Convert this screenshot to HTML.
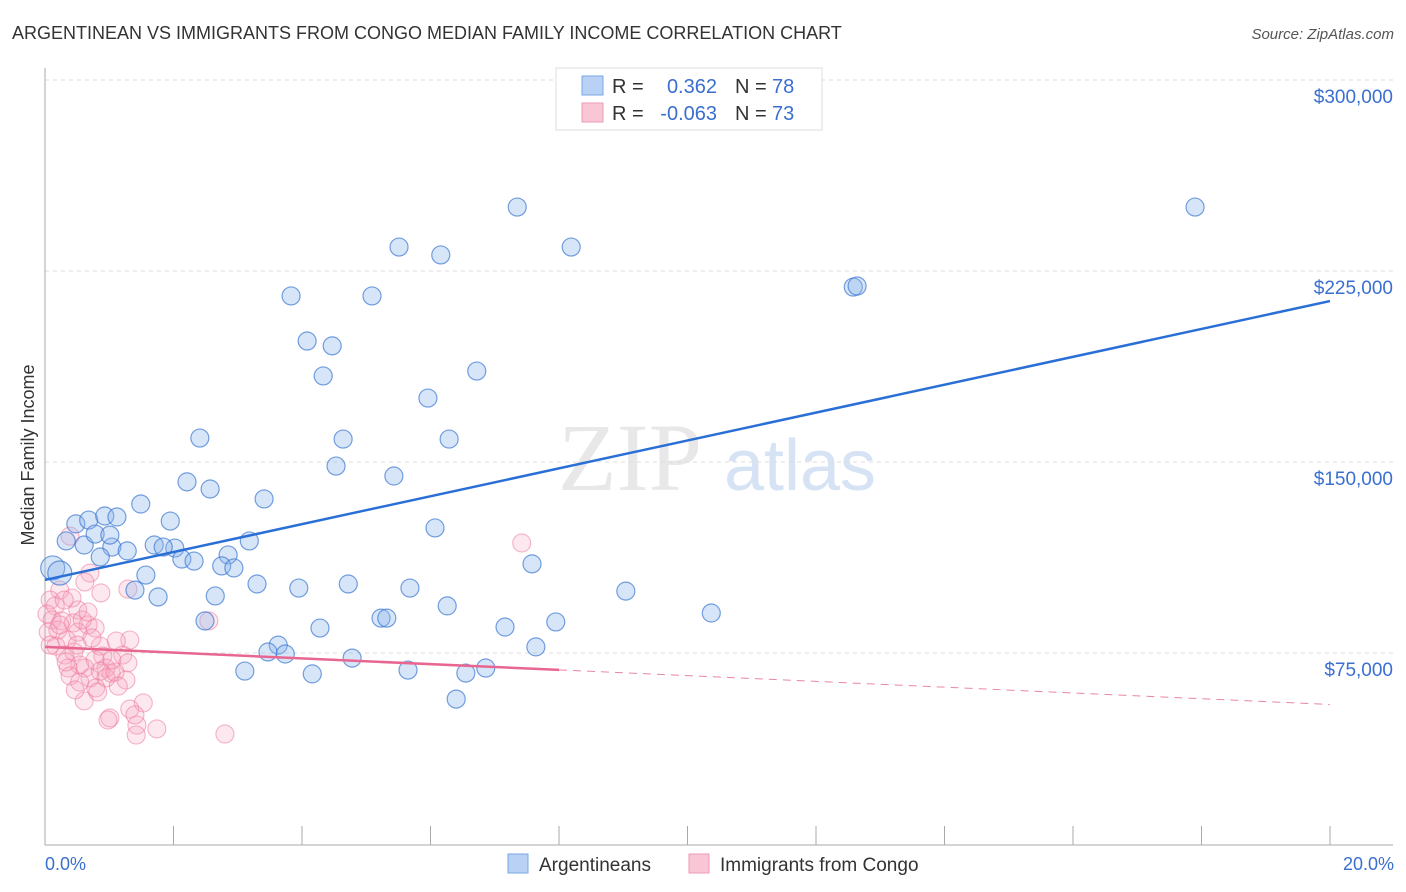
<!DOCTYPE html>
<html><head><meta charset="utf-8">
<style>
body{margin:0;background:#fff;font-family:"Liberation Sans",sans-serif;}
svg{display:block}
</style></head>
<body>
<svg id="chart" width="1406" height="892">
<text x="12" y="39" font-size="18" fill="#333">ARGENTINEAN VS IMMIGRANTS FROM CONGO MEDIAN FAMILY INCOME CORRELATION CHART</text>
<text x="1394" y="39" font-size="15" fill="#555" font-style="italic" text-anchor="end">Source: ZipAtlas.com</text>
<text x="630" y="490" font-size="96" fill="#e8e8e8" font-family="Liberation Serif" text-anchor="middle">ZIP</text>
<text x="800" y="490" font-size="72" fill="#d6e3f5" text-anchor="middle">atlas</text>
<g id="grid"></g>
<g id="axes"></g>
<g id="pinkpts"></g>
<g id="bluepts"></g>
<g id="lines"></g>
<text transform="translate(34,455) rotate(-90)" font-size="18" fill="#333" text-anchor="middle">Median Family Income</text>
<text x="45" y="870" font-size="18" fill="#3a6fd0">0.0%</text>
<text x="1394" y="870" font-size="18" fill="#3a6fd0" text-anchor="end">20.0%</text>
<g>
<rect x="556" y="68" width="266" height="62" fill="#fff" stroke="#ddd"/>
<rect x="582" y="76" width="21" height="19" fill="#b8d1f5" stroke="#7aa6e6"/>
<rect x="582" y="103" width="21" height="19" fill="#f9c6d6" stroke="#ee9ab4"/>
<text x="612" y="93" font-size="20" fill="#333">R = </text><text x="717" y="93" font-size="20" fill="#3a6fd0" text-anchor="end">0.362</text>
<text x="735" y="93" font-size="20" fill="#333">N = </text><text x="772" y="93" font-size="20" fill="#3a6fd0">78</text>
<text x="612" y="120" font-size="20" fill="#333">R = </text><text x="717" y="120" font-size="20" fill="#3a6fd0" text-anchor="end">-0.063</text>
<text x="735" y="120" font-size="20" fill="#333">N = </text><text x="772" y="120" font-size="20" fill="#3a6fd0">73</text>
</g>
<g>
<rect x="508" y="854" width="20" height="19" fill="#b8d1f5" stroke="#7aa6e6"/>
<text x="539" y="871" font-size="19" fill="#333">Argentineans</text>
<rect x="689" y="854" width="20" height="19" fill="#f9c6d6" stroke="#ee9ab4"/>
<text x="720" y="871" font-size="19" fill="#333">Immigrants from Congo</text>
</g>
</svg>
<script>
const yTicks=[75000,150000,225000,300000];
const yTickLabels=["$75,000","$150,000","$225,000","$300,000"];
const blueX=[7.35,17.90,5.51,8.19,6.16,3.83,5.09,12.58,12.64,4.08,4.47,4.33,6.72,5.96,2.41,4.64,6.29,4.53,5.43,2.21,2.57,3.41,1.49,0.48,0.68,0.93,1.12,1.95,6.07,0.33,0.61,0.78,3.18,1.04,1.28,1.70,2.02,1.84,2.13,2.32,2.85,2.75,2.94,0.12,0.23,0.86,1.57,7.58,1.40,1.76,2.65,3.30,3.95,4.72,5.68,9.04,6.26,10.37,2.49,5.23,5.32,4.28,7.16,7.95,3.63,3.47,3.74,7.64,4.78,3.11,4.16,5.65,6.55,6.86,6.40,1.01];
const blueY=[250.1,250.1,234.4,234.4,231.3,215.2,215.2,218.7,219.1,197.5,195.6,183.8,185.7,175.1,159.4,159.0,159.0,148.4,144.5,142.2,139.4,135.5,133.5,125.7,127.2,128.8,128.4,126.8,124.1,119.0,117.4,121.7,119.0,116.6,115.1,117.4,116.2,116.6,111.9,111.1,113.5,109.2,108.4,108.4,106.4,112.7,105.6,110.0,99.7,97.0,97.4,102.1,100.5,102.1,100.5,99.3,93.5,90.7,87.6,88.7,88.7,84.8,85.2,87.2,78.1,75.4,74.6,77.4,73.0,67.9,66.8,68.3,67.1,69.1,56.9,121.3];
const blueR=[9,9,9,9,9,9,9,9,9,9,9,9,9,9,9,9,9,9,9,9,9,9,9,9,9,9,9,9,9,9,9,9,9,9,9,9,9,9,9,9,9,9,9,12,12,9,9,9,9,9,9,9,9,9,9,9,9,9,9,9,9,9,9,9,9,9,9,9,9,9,9,9,9,9,9,9];
const pinkX=[7.42,0.39,0.70,1.29,0.23,0.62,0.87,0.08,0.16,0.51,0.03,0.11,0.26,0.44,0.67,0.20,0.78,0.05,0.34,0.51,1.32,2.55,0.86,1.11,0.31,0.45,0.90,0.54,0.78,1.21,0.36,0.62,0.95,1.03,1.29,0.86,0.39,0.70,0.95,1.26,0.54,0.79,0.82,1.09,0.61,1.53,1.01,1.32,1.43,1.74,1.42,2.80,0.98,1.40,0.23,0.42,0.58,0.73,1.14,0.47,0.33,0.17,0.30,0.67,0.08,0.50,1.04];
const pinkY=[118.2,120.9,106.4,100.1,99.7,102.9,98.6,95.8,93.5,91.9,90.3,88.0,87.6,86.8,86.0,84.0,84.8,83.2,80.1,83.2,80.1,87.6,77.7,79.7,74.2,75.4,73.8,70.3,72.3,74.2,69.1,69.1,69.1,67.1,71.1,67.9,66.0,65.2,65.2,64.4,63.6,61.3,59.7,67.5,56.2,55.4,49.5,53.0,46.7,45.2,42.8,43.2,48.7,50.7,86.0,96.6,88.0,80.9,62.0,60.5,71.5,77.7,95.8,91.1,78.1,78.1,72.3];
const blueTrend=[103.7,213.2];
const pinkTrend=[77.4,54.8];
const pinkSolidEnd=8.0;

const NS="http://www.w3.org/2000/svg";
function xs(p){return 45+p*(1330-45)/20;}
function ys(v){return 653-(v-75000)*191/75000;}
function mk(tag,attrs,parent){const e=document.createElementNS(NS,tag);for(const k in attrs)e.setAttribute(k,attrs[k]);parent.appendChild(e);return e;}
const grid=document.getElementById('grid'),axes=document.getElementById('axes');
yTicks.forEach((t,i)=>{
  const l=mk('line',{x1:45,x2:1393,y1:ys(t),y2:ys(t),stroke:'#ddd','stroke-dasharray':'4,4'},grid);
  
  
  const tx=mk('text',{x:1393,y:ys(t)+23,'font-size':19,fill:'#3a6fd0','text-anchor':'end'},grid);
  tx.textContent=yTickLabels[i];
  
  
});
const ax=mk('line',{x1:45,x2:45,y1:68,y2:845,stroke:'#aaa'},axes);


const bx=mk('line',{x1:45,x2:1393,y1:845,y2:845,stroke:'#aaa'},axes);


for(let i=0;i<=10;i++){
  const t=mk('line',{x1:xs(i*2),x2:xs(i*2),y1:826,y2:845,stroke:'#aaa'},axes);
  
  
}
const pg=document.getElementById('pinkpts');
pinkX.forEach((p,i)=>{
  const c=mk('circle',{cx:xs(p),cy:ys(pinkY[i]*1000),r:9,fill:'rgba(246,165,192,0.25)',stroke:'rgba(236,120,155,0.55)','stroke-width':1.1},pg);
  
  
});
const bg=document.getElementById('bluepts');
blueX.forEach((p,i)=>{
  const c=mk('circle',{cx:xs(p),cy:ys(blueY[i]*1000),r:blueR[i],fill:'rgba(140,180,235,0.35)',stroke:'rgba(60,120,210,0.7)','stroke-width':1.2},bg);
  
  
});
const lg=document.getElementById('lines');
const b=mk('line',{x1:xs(0),y1:ys(blueTrend[0]*1000),x2:xs(20),y2:ys(blueTrend[1]*1000),stroke:'#2a6fd6','stroke-width':2.5},lg);


const pv=p=>pinkTrend[0]+(pinkTrend[1]-pinkTrend[0])*p/20;
const ps=mk('line',{x1:xs(0),y1:ys(pv(0)*1000),x2:xs(pinkSolidEnd),y2:ys(pv(pinkSolidEnd)*1000),stroke:'#e8668f','stroke-width':2.5},lg);


const pd=mk('line',{x1:xs(pinkSolidEnd),y1:ys(pv(pinkSolidEnd)*1000),x2:xs(20),y2:ys(pv(20)*1000),stroke:'#e8889f','stroke-width':1,'stroke-dasharray':'8,6'},lg);


</script>
</body></html>
